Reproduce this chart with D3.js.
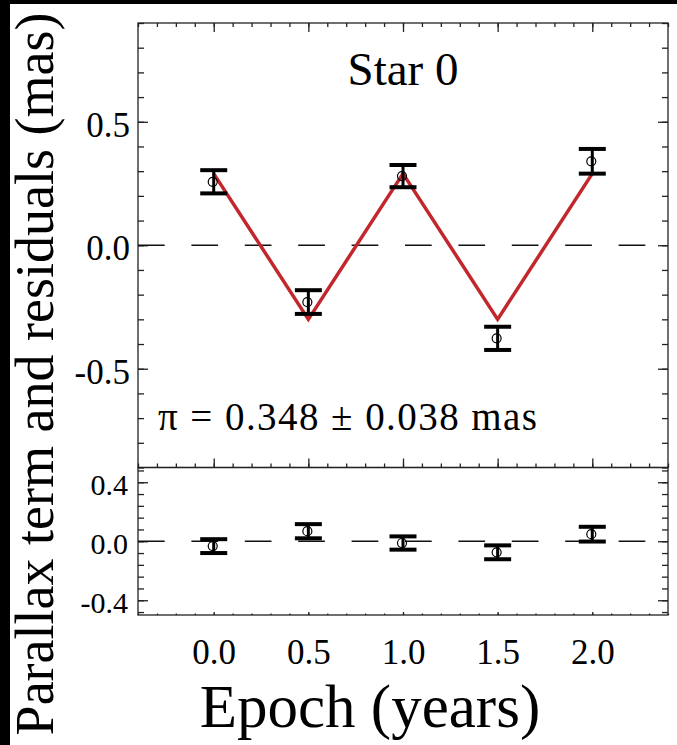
<!DOCTYPE html>
<html>
<head>
<meta charset="utf-8">
<script src="https://cdn.jsdelivr.net/npm/d3@7"></script>
<style>
  body { margin: 0; background: #fff; }
  text { font-family: "Liberation Serif", "Times New Roman", serif; fill: #000; }
</style>
</head>
<body>
<div id="chart"></div>
<script>
// epochs of the observations (years)
const epochs = [0.0, 0.5, 1.0, 1.5, 2.0];
// measured parallax term (mas) and its error
const observed = [0.257, -0.23, 0.28, -0.377, 0.34];
const errors = [0.047, 0.048, 0.045, 0.047, 0.05];
// fitted parallax model (red line)
const model = [0.29, -0.30, 0.29, -0.30, 0.29];
// residuals for the lower panel
const residuals = [-0.033, 0.068, -0.012, -0.075, 0.048];

// tick labels
const xTicks = [0.0, 0.5, 1.0, 1.5, 2.0];
const yTicksTop = [-0.5, 0.0, 0.5];
const yTicksBottom = [-0.4, 0.0, 0.4];

const width = 677, height = 745;
const left = 138, right = 668;
const top1 = 23, bottom1 = 467.5, bottom2 = 615;
const axisColor = "#222";

const svg = d3
  .select("#chart")
  .append("svg")
  .attr("width", width)
  .attr("height", height);

// black edges of the original picture
svg.append("rect").attr("x", 0).attr("y", 0).attr("width", width).attr("height", 4).attr("fill", "#000");
svg.append("rect").attr("x", 0).attr("y", 0).attr("width", 10).attr("height", height).attr("fill", "#000");

// scales
const xScale = d3.scaleLinear().domain([-0.4, 2.4]).range([left, right]);
const yTop = d3.scaleLinear().domain([-0.9, 0.9]).range([bottom1, top1]);
const yBot = d3.scaleLinear().domain([-0.5, 0.5]).range([bottom2, bottom1]);

const xMinor = d3.range(-0.4, 2.4001, 0.1);
const yMinorTop = d3.range(-0.9, 0.9001, 0.1);
const yMinorBot = d3.range(-0.48, 0.4801, 0.08);

// helper: draw a tick-only axis
function ticks(axis, transform) {
  const g = svg.append("g")
    .attr("transform", transform)
    .call(axis.tickFormat("").tickSizeOuter(0));
  g.select(".domain").remove();
  g.selectAll(".tick line").attr("stroke", axisColor).attr("stroke-width", 1.3);
  return g;
}

// upper panel ticks (all pointing inward)
ticks(d3.axisTop(xScale).tickValues(xMinor).tickSize(-4), `translate(0,${top1})`);
ticks(d3.axisTop(xScale).tickValues(xTicks).tickSize(-9), `translate(0,${top1})`);
ticks(d3.axisBottom(xScale).tickValues(xMinor).tickSize(-4), `translate(0,${bottom1})`);
ticks(d3.axisBottom(xScale).tickValues(xTicks).tickSize(-9), `translate(0,${bottom1})`);
ticks(d3.axisLeft(yTop).tickValues(yMinorTop).tickSize(-6), `translate(${left},0)`);
ticks(d3.axisLeft(yTop).tickValues(yTicksTop).tickSize(-10), `translate(${left},0)`);
ticks(d3.axisRight(yTop).tickValues(yMinorTop).tickSize(-6), `translate(${right},0)`);
ticks(d3.axisRight(yTop).tickValues(yTicksTop).tickSize(-10), `translate(${right},0)`);

// lower panel ticks
ticks(d3.axisBottom(xScale).tickValues(xMinor).tickSize(-1.5), `translate(0,${bottom2})`);
ticks(d3.axisBottom(xScale).tickValues(xTicks).tickSize(-3), `translate(0,${bottom2})`);
ticks(d3.axisLeft(yBot).tickValues(yMinorBot).tickSize(-6), `translate(${left},0)`);
ticks(d3.axisLeft(yBot).tickValues(yTicksBottom).tickSize(-10), `translate(${left},0)`);
ticks(d3.axisRight(yBot).tickValues(yMinorBot).tickSize(-6), `translate(${right},0)`);
ticks(d3.axisRight(yBot).tickValues(yTicksBottom).tickSize(-10), `translate(${right},0)`);

// panel frames
svg.append("rect")
  .attr("x", left).attr("y", top1)
  .attr("width", right - left).attr("height", bottom1 - top1)
  .attr("fill", "none").attr("stroke", axisColor).attr("stroke-width", 1.3);
svg.append("rect")
  .attr("x", left).attr("y", bottom1)
  .attr("width", right - left).attr("height", bottom2 - bottom1)
  .attr("fill", "none").attr("stroke", axisColor).attr("stroke-width", 1.3);

// tick labels
function labels(axis, transform, size) {
  const g = svg.append("g")
    .attr("transform", transform)
    .call(axis.tickSize(0).tickFormat((d) => d.toFixed(1)));
  g.select(".domain").remove();
  g.selectAll("text")
    .attr("font-family", "Liberation Serif, Times New Roman, serif")
    .attr("font-size", size + "px")
    .attr("fill", "#000");
  return g;
}

labels(d3.axisLeft(yTop).tickValues(yTicksTop).tickPadding(8), `translate(${left},0)`, 35)
  .selectAll("text").attr("dy", "0.42em");
labels(d3.axisLeft(yBot).tickValues(yTicksBottom).tickPadding(10), `translate(${left},0)`, 30)
  .selectAll("text").attr("dy", "0.42em");
labels(d3.axisBottom(xScale).tickValues(xTicks).tickPadding(0), `translate(0,${bottom2})`, 35)
  .selectAll("text").attr("y", 49).attr("dy", 0);

// zero lines
[[yTop, 0], [yBot, 0]].forEach(([ys, v]) => {
  svg.append("line")
    .attr("x1", left).attr("x2", right)
    .attr("y1", ys(v)).attr("y2", ys(v))
    .attr("stroke", "#111")
    .attr("stroke-width", 1.3)
    .attr("stroke-dasharray", "26.7,26.7");
});

// model line
const pts = epochs.map((e, i) => ({ x: e, y: model[i] }));
svg.append("path")
  .datum(pts)
  .attr("fill", "none")
  .attr("stroke", "#c1272d")
  .attr("stroke-width", 3.5)
  .attr("stroke-linejoin", "miter")
  .attr("d", d3.line().x((d) => xScale(d.x)).y((d) => yTop(d.y)));

// error bars with open circles
function errorBars(values, ys) {
  const data = epochs.map((e, i) => ({ x: e, y: values[i], err: errors[i] }));
  const g = svg.append("g");
  g.selectAll(".stem")
    .data(data)
    .enter()
    .append("line")
      .attr("x1", (d) => xScale(d.x)).attr("x2", (d) => xScale(d.x))
      .attr("y1", (d) => ys(d.y - d.err)).attr("y2", (d) => ys(d.y + d.err))
      .attr("stroke", "#000").attr("stroke-width", 3);
  ["lo", "hi"].forEach((side) => {
    g.selectAll(".cap-" + side)
      .data(data)
      .enter()
      .append("line")
        .attr("x1", (d) => xScale(d.x) - 13.5).attr("x2", (d) => xScale(d.x) + 13.5)
        .attr("y1", (d) => ys(side === "lo" ? d.y - d.err : d.y + d.err))
        .attr("y2", (d) => ys(side === "lo" ? d.y - d.err : d.y + d.err))
        .attr("stroke", "#000").attr("stroke-width", 4);
  });
  g.selectAll("circle")
    .data(data)
    .enter()
    .append("circle")
      .attr("cx", (d) => xScale(d.x) - 1)
      .attr("cy", (d) => ys(d.y))
      .attr("r", 4.5)
      .attr("fill", "none")
      .attr("stroke", "#000")
      .attr("stroke-width", 1.2);
}
errorBars(observed, yTop);
errorBars(residuals, yBot);

// annotations
svg.append("text")
  .attr("x", xScale(1.0)).attr("y", 85)
  .attr("text-anchor", "middle")
  .attr("font-size", "47px")
  .text("Star 0");

svg.append("text")
  .attr("x", 158).attr("y", 430)
  .attr("font-size", "39px")
  .attr("textLength", 379)
  .attr("lengthAdjust", "spacing")
  .text("π = 0.348 ± 0.038 mas");

// axis titles
svg.append("text")
  .attr("x", 370).attr("y", 727)
  .attr("text-anchor", "middle")
  .attr("font-size", "61px")
  .text("Epoch (years)");

svg.append("text")
  .attr("transform", "translate(53,374) rotate(-90)")
  .attr("text-anchor", "middle")
  .attr("font-size", "54px")
  .text("Parallax term and residuals (mas)");
</script>
</body>
</html>
